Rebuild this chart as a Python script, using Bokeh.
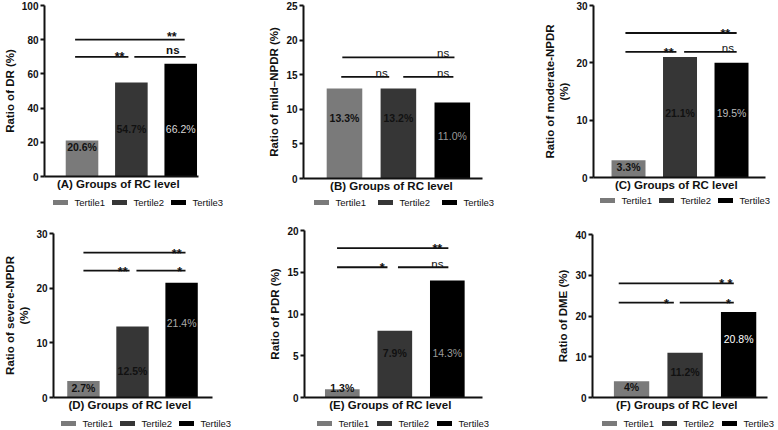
from bokeh.plotting import figure
from bokeh.layouts import row, column
from bokeh.models import ColumnDataSource, Range1d
from bokeh.core.properties import value
from bokeh.embed import file_html
from bokeh.resources import INLINE

# ---------------- data ----------------
categories = ["Tertile1", "Tertile2", "Tertile3"]

dr_pct = [21, 55, 66]
dr_labels = ["20.6%", "54.7%", "66.2%"]

mild_pct = [13, 13, 11]
mild_labels = ["13.3%", "13.2%", "11.0%"]

moderate_pct = [3, 21, 20]
moderate_labels = ["3.3%", "21.1%", "19.5%"]

severe_pct = [3, 13, 21]
severe_labels = ["2.7%", "12.5%", "21.4%"]

pdr_pct = [1, 8, 14]
pdr_labels = ["1.3%", "7.9%", "14.3%"]

dme_pct = [4, 11, 21]
dme_labels = ["4%", "11.2%", "20.8%"]

# significance marks for pairs (T1 vs T2, T2 vs T3, T1 vs T3)
dr_sig = ["**", "ns", "**"]
mild_sig = ["ns", "ns", "ns"]
moderate_sig = ["**", "ns", "**"]
severe_sig = ["**", "*", "**"]
pdr_sig = ["*", "ns", "**"]
dme_sig = ["*", "*", "* *"]

dr_ticks = [0, 20, 40, 60, 80, 100]
mild_ticks = [0, 5, 10, 15, 20, 25]
moderate_ticks = [0, 10, 20, 30]
severe_ticks = [0, 10, 20, 30]
pdr_ticks = [0, 5, 10, 15, 20]
dme_ticks = [0, 10, 20, 30, 40]

# ---------------- styling / layout ----------------
FONT = value("Liberation Sans")
BAR_COLORS = ["#7a7a7a", "#363636", "#000000"]
LEG_TEXT_W = 31

panels = [
    dict(title="(A)  Groups of  RC level", ylabel="Ratio of DR (%)",
         vals=dr_pct, labels=dr_labels, sig=dr_sig, ticks=dr_ticks,
         xr=(0.24, 3.36), lab_y=[17.5, 27.5, 27.5], t3_color="#d8d8d8",
         low=70, high=80, left=(0.86, 1.94), right=(2.06, 3.1), top=(0.86, 3.08),
         tx=[1.76, 2.84, 2.82], toff=[0, -7, -3], sig_bold=True,
         w=255, bl=42, br=57, bt=5, bb=18, h=194, hl=21, lx=74, lp=59, ly=13),
    dict(title="(B) Groups of  RC level", ylabel="Ratio of mild\u2013NPDR (%)",
         vals=mild_pct, labels=mild_labels, sig=mild_sig, ticks=mild_ticks,
         xr=(0.24, 3.56), lab_y=[8.8, 8.8, 6.2], t3_color="#9a9a9a",
         low=14.7, high=17.5, left=(0.94, 1.83), right=(2.09, 3.02), top=(0.96, 3.04),
         tx=[1.69, 2.83, 2.83], toff=[-4, -4, -4], sig_bold=False,
         w=259, bl=48, br=32, bt=5, bb=15, h=194, hl=21, lx=80, lp=64, ly=13),
    dict(title="(C)  Groups of  RC level", ylabel="Ratio of moderate-NPDR\n(%)",
         vals=moderate_pct, labels=moderate_labels, sig=moderate_sig, ticks=moderate_ticks,
         xr=(0.32, 3.66), lab_y=[1.9, 11.3, 11.3], t3_color="#bbbbbb",
         low=21.9, high=25.2, left=(0.94, 1.93), right=(2.08, 3.1), top=(0.94, 3.1),
         tx=[1.78, 2.93, 2.88], toff=[1, -4, 1], sig_bold=False,
         w=262, bl=79, br=11, bt=5, bb=17, h=194, hl=21, lx=107, lp=59, ly=15),
    dict(title="(D)  Groups of  RC level", ylabel="Ratio of severe-NPDR\n(%)",
         vals=severe_pct, labels=severe_labels, sig=severe_sig, ticks=severe_ticks,
         xr=(0.39, 3.63), lab_y=[1.8, 4.9, 13.7], t3_color="#aaaaaa",
         low=23.2, high=26.5, left=(1.0, 1.94), right=(2.08, 3.08), top=(1.0, 3.08),
         tx=[1.8, 2.96, 2.9], toff=[1, 1, 1], sig_bold=False,
         w=255, bl=47, br=43, bt=18, bb=16, h=198, hl=15, lx=82, lp=59, ly=5),
    dict(title="(E)  Groups of  RC level", ylabel="Ratio of PDR (%)",
         vals=pdr_pct, labels=pdr_labels, sig=pdr_sig, ticks=pdr_ticks,
         xr=(0.28, 3.67), lab_y=[1.1, 5.3, 5.3], t3_color="#9a9a9a",
         low=15.6, high=17.9, left=(0.9, 1.86), right=(2.06, 3.02), top=(0.9, 3.02),
         tx=[1.76, 2.81, 2.81], toff=[1, -3, 1], sig_bold=False,
         w=259, bl=49, br=32, bt=15, bb=16, h=198, hl=15, lx=83, lp=60, ly=5),
    dict(title="(F)  Groups of  RC level", ylabel="Ratio of DME (%)",
         vals=dme_pct, labels=dme_labels, sig=dme_sig, ticks=dme_ticks,
         xr=(0.27, 3.54), lab_y=[2.6, 6.2, 14.3], t3_color="#ffffff",
         low=23.3, high=28.0, left=(0.76, 1.79), right=(1.9, 2.91), top=(0.76, 2.91),
         tx=[1.65, 2.81, 2.76], toff=[1, 1, 1], sig_bold=False,
         w=262, bl=78, br=9, bt=19, bb=16, h=198, hl=15, lx=109, lp=60, ly=5),
]


def make_panel(s):
    p = figure(width=s["w"], height=s["h"], output_backend="svg", toolbar_location=None,
               x_range=Range1d(*s["xr"]), y_range=Range1d(0, s["ticks"][-1]),
               min_border_left=s["bl"], min_border_right=s["br"],
               min_border_top=s["bt"], min_border_bottom=s["bb"])
    p.outline_line_color = None
    p.grid.visible = False

    src = ColumnDataSource(dict(x=[1, 2, 3], top=s["vals"], cat=categories, color=BAR_COLORS))
    p.vbar(x="x", top="top", width=0.66, source=src, fill_color="color", line_color=None)

    # value labels
    p.text(x=[1, 2], y=s["lab_y"][:2], text=s["labels"][:2], text_align="center",
           text_baseline="middle", text_font=FONT, text_font_size="10.5px",
           text_font_style="bold", text_color="#111111")
    p.text(x=[3], y=s["lab_y"][2:], text=s["labels"][2:], text_align="center",
           text_baseline="middle", text_font=FONT, text_font_size="10.5px",
           text_font_style="normal", text_color=s["t3_color"])

    # significance brackets
    x0 = [s["left"][0], s["right"][0], s["top"][0]]
    x1 = [s["left"][1], s["right"][1], s["top"][1]]
    yy = [s["low"], s["low"], s["high"]]
    p.segment(x0=x0, y0=yy, x1=x1, y1=yy, line_color="#111111", line_width=1.8)
    for txt, tx, y, off in zip(s["sig"], s["tx"], yy, s["toff"]):
        is_ns = txt == "ns"
        p.text(x=[tx], y=[y], text=[txt], text_align="center", text_baseline="alphabetic",
               y_offset=off, text_font=FONT,
               text_font_size="11.5px" if is_ns else "12.5px",
               text_font_style="bold" if (s["sig_bold"] or not is_ns) else "normal",
               text_color="#111111")

    # axes
    ya = p.yaxis[0]
    ya.ticker = s["ticks"]
    ya.axis_label = s["ylabel"]
    ya.axis_label_text_font = "Liberation Sans"
    ya.axis_label_text_font_size = "11.5px"
    ya.axis_label_text_font_style = "bold"
    ya.axis_label_text_color = "#111111"
    ya.axis_label_standoff = 3
    ya.major_label_text_font = "Liberation Sans"
    ya.major_label_text_font_size = "10px"
    ya.major_label_text_font_style = "bold"
    ya.major_label_text_color = "#111111"
    ya.major_label_standoff = 2
    ya.minor_tick_line_color = None
    ya.major_tick_in = 0
    ya.major_tick_out = 4
    ya.major_tick_line_width = 2
    ya.axis_line_width = 2
    ya.axis_line_color = "#111111"
    ya.major_tick_line_color = "#111111"

    xa = p.xaxis[0]
    xa.ticker = []
    xa.axis_label = s["title"]
    xa.axis_label_text_font = "Liberation Sans"
    xa.axis_label_text_font_size = "11.5px"
    xa.axis_label_text_font_style = "bold"
    xa.axis_label_text_color = "#111111"
    xa.axis_label_standoff = 1
    xa.major_label_standoff = 0
    xa.major_tick_out = 0
    xa.major_tick_in = 0
    xa.minor_tick_line_color = None
    xa.axis_line_width = 2
    xa.axis_line_color = "#111111"

    # legend strip under the panel
    lg = figure(width=s["w"], height=s["hl"], output_backend="svg", toolbar_location=None,
                x_axis_location=None, y_axis_location=None, min_border=0)
    lg.outline_line_color = None
    lg.grid.visible = False

    aligned = True
    try:
        lg.frame_align = False
        p.frame_align = False
        aligned = False
    except Exception:
        aligned = True

    lx, lp = s["lx"], s["lp"]
    if aligned:
        # strip frame follows the main frame: map column pixels onto it
        fl, fr = s["bl"], s["w"] - s["br"]
        last_right = lx + 2 * lp + LEG_TEXT_W
        overflow = last_right - (fr - 1)
        if overflow > 0:
            shift = max(0, min(overflow, (lx - 21) - fl))
            lx -= shift
            overflow -= shift
            if overflow > 0:
                lp -= overflow / 2.0
    else:
        fl, fr = 0, s["w"]
    lg.x_range = Range1d(fl, fr)
    lg.y_range = Range1d(0, s["hl"])

    text_x = [lx + i * lp for i in range(len(categories))]
    sw_x = [t - 14 for t in text_x]
    lsrc = ColumnDataSource(dict(tx=text_x, sx=sw_x, y=[s["ly"]] * len(categories),
                                 cat=categories, color=BAR_COLORS))
    lg.rect(x="sx", y="y", width=15, height=5, source=lsrc, fill_color="color",
            line_color=None)
    lg.text(x="tx", y="y", text="cat", source=lsrc, text_align="left",
            text_baseline="middle", text_font=FONT, text_font_size="9.5px",
            text_color="#111111")
    return column(p, lg)


cols = [make_panel(s) for s in panels]
layout = column(row(*cols[:3]), row(*cols[3:]))

open("out.html", "w").write(file_html(layout, INLINE))
